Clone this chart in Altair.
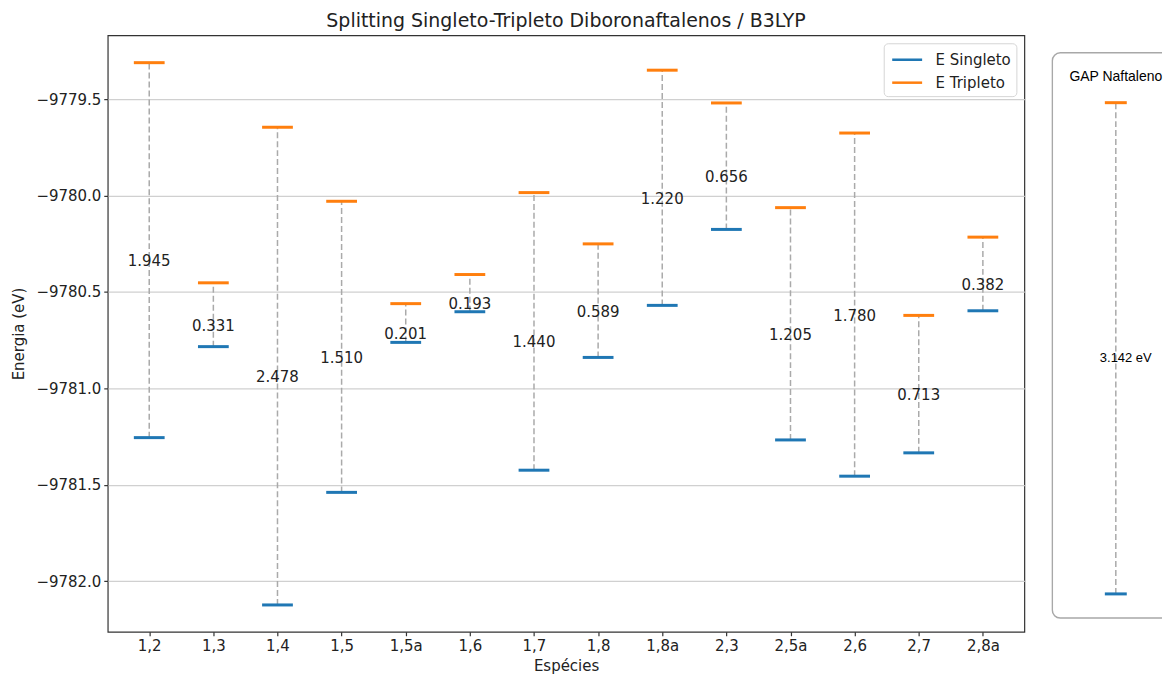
import altair as alt
import pandas as pd

# ---------------- data ----------------
species = ["1,2", "1,3", "1,4", "1,5", "1,5a", "1,6", "1,7", "1,8",
           "1,8a", "2,3", "2,5a", "2,6", "2,7", "2,8a"]
singlet = [-9781.256, -9780.784, -9782.124, -9781.540, -9780.762, -9780.603, -9781.425,
           -9780.840, -9780.570, -9780.176, -9781.268, -9781.456, -9781.335, -9780.598]
triplet = [-9779.311, -9780.453, -9779.646, -9780.030, -9780.561, -9780.410, -9779.985,
           -9780.251, -9779.350, -9779.520, -9780.063, -9779.676, -9780.622, -9780.216]
gaps = [1.945, 0.331, 2.478, 1.510, 0.201, 0.193, 1.440, 0.589, 1.220, 0.656,
        1.205, 1.780, 0.713, 0.382]
y_ticks = [-9782.0, -9781.5, -9781.0, -9780.5, -9780.0, -9779.5]

series_names = ["E Singleto", "E Tripleto"]
series_colors = ["#1f77b4", "#ff7f0e"]

nap_name = ["GAP Naftaleno"]
nap_singlet = [0.0]      # relative energy (eV)
nap_triplet = [3.142]
nap_gap = [3.142]

# ---------------- tables ----------------
idx = list(range(len(species)))
wide = pd.DataFrame({"idx": idx, "species": species, "S": singlet, "T": triplet, "gap": gaps})
long = pd.concat([
    pd.DataFrame({"idx": idx, "series": series_names[0], "energy": singlet}),
    pd.DataFrame({"idx": idx, "series": series_names[1], "energy": triplet}),
], ignore_index=True)

FONT = "DejaVu Sans"
TXT = "#222222"
HALF = 0.24

xscale = alt.Scale(domain=[-0.647, 13.647], nice=False, zero=False)
yscale = alt.Scale(domain=[-9782.263, -9779.169], nice=False, zero=False)
label_expr = "[" + ",".join("'%s'" % s for s in species) + "][datum.value]"

x_axis = alt.Axis(values=idx, labelExpr=label_expr, title="Espécies", grid=False,
                  tickSize=4, labelPadding=3, titlePadding=5)
y_axis = alt.Axis(values=y_ticks, format=".1f", title="Energia (eV)", grid=True,
                  tickSize=4, labelPadding=3, titlePadding=9)

X = lambda f: alt.X(f, type="quantitative", scale=xscale, axis=x_axis)
Y = lambda f: alt.Y(f, type="quantitative", scale=yscale, axis=y_axis)

dashed = alt.Chart(wide).mark_rule(color="#aaaaaa", strokeWidth=1.5, strokeDash=[6, 3]).encode(
    x=X("idx"), y=Y("S"), y2="T:Q")

levels = alt.Chart(long).transform_calculate(
    x0="datum.idx - %f" % HALF, x1="datum.idx + %f" % HALF
).mark_rule(strokeWidth=3).encode(
    x=X("x0"), x2="x1:Q", y=Y("energy"),
    color=alt.Color("series:N", scale=alt.Scale(domain=series_names, range=series_colors),
                    legend=alt.Legend(title=None, orient="top-right", offset=8,
                                      symbolType="M-1.5,0H1.5", symbolSize=400,
                                      symbolStrokeWidth=2.5, symbolOffset=7,
                                      labelFont=FONT, labelFontSize=15, labelColor=TXT,
                                      labelOffset=17, padding=5, rowPadding=3,
                                      strokeColor="#d5d5d5", fillColor="rgba(255,255,255,0.85)",
                                      cornerRadius=4)))

labels = alt.Chart(wide).transform_calculate(mid="(datum.S + datum.T) / 2").mark_text(
    font=FONT, fontSize=15, color=TXT, baseline="middle", dy=11
).encode(x=X("idx"), y=Y("mid"), text=alt.Text("gap:Q", format=".3f"))

main = alt.layer(dashed, levels, labels).properties(
    width=919, height=598,
    title=alt.TitleParams("Splitting Singleto-Tripleto Diboronaftalenos / B3LYP",
                          font=FONT, fontSize=19, fontWeight="normal", color=TXT,
                          baseline="alphabetic", offset=-10.3, anchor="middle"),
)

# ---------------- side panel ----------------
nap = pd.DataFrame({"x": [0], "name": nap_name, "S": nap_singlet, "T": nap_triplet, "gap": nap_gap})
nap_long = pd.concat([
    pd.DataFrame({"x": [0], "series": series_names[0], "energy": nap_singlet}),
    pd.DataFrame({"x": [0], "series": series_names[1], "energy": nap_triplet}),
], ignore_index=True)

PW, PH = 111, 598
pxs = alt.Scale(domain=[-1, 0.716], nice=False, zero=False)
pys = alt.Scale(domain=[-0.242, 3.573], nice=False, zero=False)
PX = lambda f: alt.X(f, type="quantitative", scale=pxs, axis=None)
PY = lambda f: alt.Y(f, type="quantitative", scale=pys, axis=None)

frame = alt.Chart(nap).mark_rect(fillOpacity=0, stroke="#a8a8a8", strokeWidth=1.5,
                                 cornerRadius=8, clip=True).encode(
    x=alt.value(1), x2=alt.value(PW + 10), y=alt.value(17.6), y2=alt.value(584.3))

p_title = alt.Chart(nap).mark_text(font="Liberation Sans", fontSize=14, color="black",
                                   baseline="middle").encode(
    x=PX("x"), y=alt.value(42.3), text="name:N")

p_dash = alt.Chart(nap).mark_rule(color="#aaaaaa", strokeWidth=1.5, strokeDash=[6, 3]).encode(
    x=PX("x"), y=PY("S"), y2="T:Q")

p_levels = alt.Chart(nap_long).transform_calculate(
    x0="datum.x - 0.17", x1="datum.x + 0.17"
).mark_rule(strokeWidth=3).encode(
    x=PX("x0"), x2="x1:Q", y=PY("energy"),
    color=alt.Color("series:N", scale=alt.Scale(domain=series_names, range=series_colors), legend=None))

p_label = alt.Chart(nap).transform_calculate(
    mid="(datum.S + datum.T) / 2", lab="format(datum.gap, '.3f') + ' eV'"
).mark_text(font="Liberation Sans", fontSize=13, color="black", align="left",
            baseline="middle", dx=-16, dy=10).encode(
    x=PX("x"), y=PY("mid"), text="lab:N")

panel = alt.layer(frame, p_title, p_dash, p_levels, p_label).properties(
    width=PW, height=PH, view=alt.ViewBackground(strokeOpacity=0))

chart = alt.hconcat(main, panel, spacing=26).resolve_scale(color="independent").properties(
    padding={"left": 3, "top": 1.5, "right": 0, "bottom": 0}
).configure_view(stroke="#333333", strokeWidth=1.2).configure_axis(
    labelFont=FONT, labelFontSize=15, labelColor=TXT,
    titleFont=FONT, titleFontSize=15, titleFontWeight="normal", titleColor=TXT,
    tickColor="#333333", tickWidth=1.2, domain=False,
    gridColor="#d0d0d0", gridWidth=1.2,
)

chart.save("out.html", embed_options={"renderer": "svg", "actions": False})
